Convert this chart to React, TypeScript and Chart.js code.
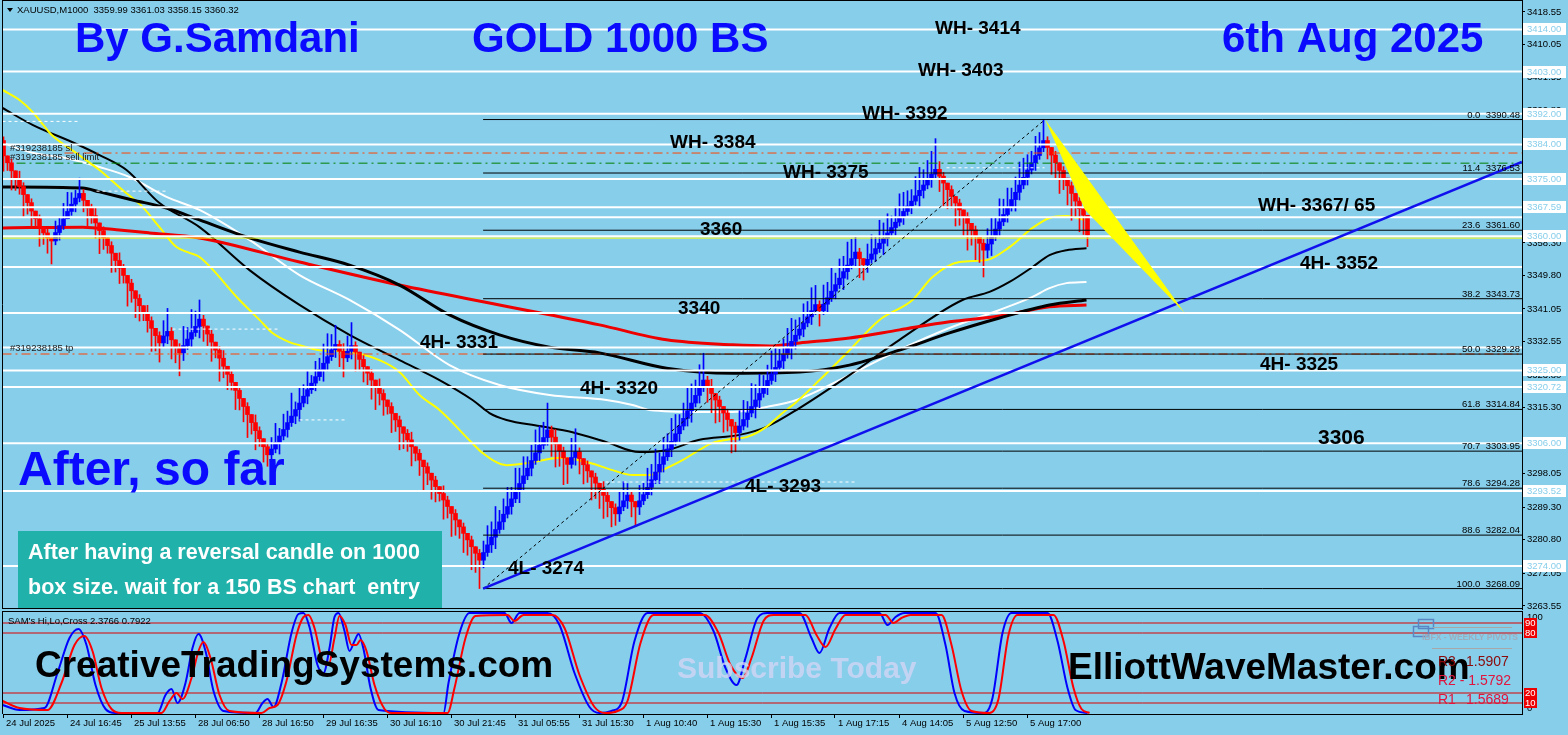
import React, { useEffect, useRef } from "react";
import { Chart, registerables } from "chart.js";
Chart.register(...registerables);

// ---------------- DATA ----------------
const firstOpen = 3385.0;
const closes = [
  3381.0,3379.2,3377.1,3375.0,3373.0,3370.9,3368.8,3366.6,3364.6,3362.4,3360.9,3359.6,3358.8,
  3361.0,3362.8,3364.6,3366.5,3368.4,3370.0,3371.2,
  3369.4,3367.4,3365.4,3363.5,3361.5,3359.6,3357.6,3355.6,3353.7,3351.7,3349.8,3347.8,3345.8,3343.8,3341.9,3340.0,3338.0,3336.0,3334.1,3332.2,
  3334.0,3335.2,
  3333.0,3331.0,3329.6,
  3331.5,3333.2,3334.9,3336.5,3338.4,
  3336.6,3334.5,3332.4,3330.3,3328.2,3326.1,3324.0,3321.9,3319.8,3317.7,3315.6,3313.5,3311.4,3309.3,3307.2,3305.1,3303.0,
  3304.5,3306.2,3307.9,3309.6,3311.4,3313.1,3314.8,3316.5,3318.3,3320.0,3321.7,3323.4,3325.2,3326.9,3328.6,3330.4,
  3331.8,
  3330.0,3328.3,
  3330.0,3331.5,
  3329.8,3327.9,
  3326.0,3324.3,3322.5,3320.8,3319.0,3317.3,3315.6,3313.8,3312.1,3310.3,3308.6,3306.9,3305.1,3303.4,3301.6,3299.9,3298.2,3296.4,3294.7,3292.9,3291.2,3289.5,3287.7,3286.0,3284.2,3282.5,3280.8,3279.0,3277.3,3275.5,
  3277.5,3279.5,3281.5,3283.5,3285.5,3287.5,3289.5,3291.5,3293.5,3295.5,3297.5,3299.5,3301.5,3303.5,3305.5,3307.5,3309.5,
  3307.6,3305.8,3304.0,3302.2,3300.5,
  3302.3,3303.8,
  3302.0,3300.4,3298.8,3297.2,3295.6,3294.0,3292.4,3290.8,3289.2,3287.6,
  3289.4,3291.0,3292.5,
  3290.8,3289.4,
  3291.0,3292.6,
  3294.5,3296.5,3298.5,3300.5,3302.5,3304.5,3306.5,3308.5,3310.5,3312.5,3314.5,3316.5,3318.5,3320.5,3322.5,
  3320.7,3319.0,3317.3,3315.6,3313.9,3312.2,3310.5,3308.8,
  3310.5,3312.2,3313.9,3315.6,3317.3,3319.0,3320.7,3322.4,3324.1,3325.8,3327.5,3329.2,3331.0,3332.6,3334.2,3335.8,3337.4,3339.0,3340.6,3342.2,
  3340.6,
  3342.3,3344.0,3345.7,3347.4,3349.1,3350.8,3352.5,3354.2,3355.9,
  3354.2,3352.6,
  3354.0,3355.4,3356.8,3358.2,3359.5,3360.9,3362.3,3363.7,3365.1,3366.5,3367.9,3369.2,3370.6,3372.0,3373.4,3374.8,3376.2,3377.5,
  3375.7,3373.9,3372.2,3370.4,3368.7,3366.9,3365.2,3363.4,3361.7,3359.9,3358.2,3356.4,
  3358.0,3359.9,3361.9,3363.8,3365.7,3367.6,3369.6,3371.5,3373.4,3375.4,3377.3,3379.2,3381.1,3383.1,3385.0,
  3383.2,3381.2,3379.2,3377.2,3375.2,3373.2,3371.2,3369.2,3367.2,3365.5,3360.32
];
const wickUp = [
  1,0,1,0,2,1,0,1,0,1,0,1,0,
  3,2,4,5,3,2,4,
  1,0,1,2,0,1,0,1,0,2,1,0,1,0,1,0,2,1,0,1,
  4,6,
  1,0,1,
  5,3,6,4,5,
  1,0,1,0,1,2,0,1,0,1,0,1,0,2,1,0,1,
  3,5,2,4,3,6,2,4,3,5,2,4,3,5,6,4,
  5,
  1,2,
  4,6,
  1,0,
  1,0,1,0,2,1,0,1,0,1,0,1,2,0,1,0,1,0,1,0,2,1,0,1,0,1,0,1,0,1,
  3,5,4,6,3,4,5,3,6,4,5,3,4,6,5,4,7,
  1,2,0,1,0,
  5,6,
  1,0,1,0,1,0,2,1,0,1,
  4,5,3,
  1,0,
  4,3,
  5,4,6,3,5,4,6,5,3,4,6,5,4,6,7,
  1,2,0,1,0,1,0,1,
  4,5,3,6,4,5,3,4,6,5,3,4,5,6,4,3,5,4,6,5,
  1,
  5,4,6,3,5,4,6,5,4,
  1,0,
  4,5,3,6,4,5,3,4,6,5,4,3,5,6,4,5,6,8,
  2,1,0,1,0,1,0,1,0,1,0,1,
  4,5,3,6,4,5,3,4,6,5,4,3,5,4,5.5,
  1,0,1,0,1,0,1,0,1,0,0
];
const wickDn = [
  4,2,5,3,2,6,3,4,2,5,3,4,6,
  1,2,1,0,1,2,1,
  3,5,2,4,6,3,2,5,3,4,2,6,3,5,4,2,3,6,4,5,
  1,2,
  5,4,6,
  2,1,2,1,3,
  4,3,5,2,6,3,4,2,5,3,4,6,3,5,2,4,3,
  2,1,3,1,2,1,2,3,1,2,1,2,1,3,2,1,
  2,
  4,5,
  1,2,
  5,3,
  4,3,5,6,3,4,2,5,3,6,4,3,5,2,4,6,3,5,4,2,5,3,6,4,3,5,4,6,5,7.4,
  2,1,2,3,1,2,1,2,1,3,2,1,2,1,2,1,2,
  5,6,4,7,5,
  1,2,
  4,5,3,6,4,5,6,4,5,3,
  2,1,2,
  4,5,
  2,1,
  1,2,1,3,2,1,2,1,2,1,2,3,1,2,1,
  4,5,6,4,5,3,7,5,
  2,1,2,1,3,2,1,2,1,2,1,2,1,3,2,1,2,1,2,1,
  4,
  1,2,1,2,1,3,2,1,2,
  5,4,
  2,1,2,1,3,2,1,2,1,2,1,2,1,3,2,1,2,1,
  4,6,5,3,6,4,5,7,4,6,5,7,
  2,3,1,2,1,2,1,3,2,1,2,1,2,1,1,
  3,5,4,6,3,5,7,4,6,5,3
];

// moving averages [bar, price]
const maYellow = [[-0.25,3398.2],[4,3395.6],[7.25,3392.5],[10,3389.0],[12,3386.5],[18.25,3381.7],[24,3377.3],[29.75,3372.1],[34.75,3367.7],[39,3362.4],[43.25,3357.2],[46.5,3355.7],[49,3354.6],[59,3343.4],[64,3338.2],[67.25,3334.8],[71.5,3332.4],[74,3331.6],[79,3330.3],[86.5,3329.8],[94,3327.7],[99,3324.6],[104,3318.6],[109,3314.7],[117.25,3306.0],[119.75,3303.5],[125.75,3300.3],[131.5,3300.9],[134.75,3301.6],[139,3302.2],[146.5,3300.9],[152.25,3299.0],[157.25,3297.7],[161.5,3297.7],[165.75,3299.5],[169.75,3301.6],[174,3304.3],[177.25,3306.1],[182.25,3307.1],[185.75,3307.6],[190.75,3310.3],[194.75,3313.9],[198.25,3316.8],[204,3322.5],[211.5,3330.3],[219,3338.2],[227.25,3343.4],[232.25,3349.4],[239,3353.3],[245.75,3353.8],[251.5,3357.2],[257.25,3362.2],[261.5,3364.8],[265.75,3365.3],[270.25,3364.3]];
const maBlackFast = [[-0.25,3393.5],[7.25,3389.1],[18.25,3384.1],[24,3381.2],[30.75,3377.3],[39,3368.7],[49,3362.4],[61.5,3351.2],[74,3342.1],[86.5,3334.3],[99,3327.7],[109,3322.5],[117.25,3317.3],[121.5,3313.9],[125.75,3312.1],[134,3310.5],[142.25,3308.9],[150.75,3306.3],[159,3303.7],[165.75,3304.2],[174,3306.9],[184,3308.2],[190.75,3310.3],[199,3315.2],[211.5,3323.8],[224,3333.0],[239.75,3343.4],[246.5,3345.5],[251.5,3348.1],[257.25,3352.0],[261.5,3355.1],[265.75,3356.4],[270.75,3356.9]];
const maBlackSlow = [[-0.25,3372.9],[19.75,3372.6],[24,3371.6],[32.25,3369.5],[40.75,3367.4],[49,3364.3],[61.5,3359.6],[74,3355.9],[86.5,3352.5],[99,3347.3],[111.5,3339.5],[124,3334.3],[136.5,3331.1],[149,3329.6],[165.75,3325.6],[182.25,3324.3],[199,3324.6],[211.5,3326.4],[224,3330.3],[236.5,3334.8],[249,3338.7],[261.5,3342.1],[270.75,3343.4]];
const maWhite = [[-0.25,3384.4],[7.25,3381.8],[15.75,3380.4],[24,3378.1],[31.5,3375.5],[40.75,3370.3],[49,3366.9],[61.5,3359.1],[74,3349.9],[86.5,3343.4],[99,3335.6],[111.5,3326.4],[124,3321.2],[136.5,3318.6],[150.75,3317.3],[157.25,3316.0],[161.5,3314.7],[174,3314.2],[182.25,3314.2],[190.75,3315.5],[198.25,3317.3],[211.5,3323.8],[224,3330.4],[236.5,3336.1],[249,3340.8],[257.25,3344.2],[261.5,3346.5],[265.75,3347.8],[270.75,3348.1]];
const maRed = [[-0.25,3362.2],[19.75,3362.4],[28.25,3361.7],[36.5,3360.9],[49,3359.6],[74,3353.3],[99,3347.3],[124,3342.1],[149,3336.9],[165.75,3333.0],[182.25,3331.7],[191.5,3331.4],[199,3332.2],[211.5,3333.5],[224,3335.6],[236.5,3337.7],[249,3339.2],[261.5,3341.6],[270.75,3342.1]];

// horizontal levels
const whiteLevels = [3414, 3403, 3392, 3384, 3375, 3367.59, 3365, 3360, 3352, 3340, 3331, 3325, 3320.72, 3306, 3293.52, 3274];
const taggedLevels = [3414, 3403, 3392, 3384, 3375, 3367.59, 3360, 3325, 3320.72, 3306, 3293.52, 3274];
const fibPct = [0.0, 11.4, 23.6, 38.2, 50.0, 61.8, 70.7, 78.6, 88.6, 100.0];
const fibPrice = [3390.48, 3376.53, 3361.60, 3343.73, 3329.28, 3314.84, 3303.95, 3294.28, 3282.04, 3268.09];
const fibStartBar = 119.9;
const fibHighBar = 260.4;
const trendEnd = [379.6, 3379.4];
const wedge = [[260.4, 3390.48], [295.3, 3340.0], [270.4, 3366.9]];
const orderPrices = [3381.75, 3379.1, 3329.3];
const orderStartBars = [15.25, 3.25, -0.25];
const pendingDashes = [[-0.25, 18.5, 3390.0], [23.25, 40.75, 3371.8], [42.25, 69, 3335.8], [74, 85.25, 3312.1], [149, 212.75, 3295.9], [235.75, 260.25, 3377.9]];

const priceTicks = [3418.55,3410.05,3401.55,3392.80,3384.30,3375.55,3367.05,3358.30,3349.80,3341.05,3332.55,3323.80,3315.30,3306.55,3298.05,3289.30,3280.80,3272.05,3263.55];
const timeLabels = ["24 Jul 2025","24 Jul 16:45","25 Jul 13:55","28 Jul 06:50","28 Jul 16:50","29 Jul 16:35","30 Jul 16:10","30 Jul 21:45","31 Jul 05:55","31 Jul 15:30","1 Aug 10:40","1 Aug 15:30","1 Aug 15:35","1 Aug 17:15","4 Aug 14:05","5 Aug 12:50","5 Aug 17:00"];

// oscillator [bar, value]
const oscBlue = [[-0.25,8],[4,3],[10.25,5],[13.5,40],[16.5,75],[18.75,84],[20.75,68],[23,28],[25.5,4],[28,0],[38.5,0],[40.5,18],[42,24],[43.5,10],[45.5,30],[47.25,65],[48.75,79],[50.5,62],[52.5,22],[55,2],[63,0],[64.75,10],[66,14],[67.5,6],[69.5,30],[72,80],[73.75,99],[75,100],[76.5,86],[78.5,48],[80,40],[81.5,65],[82.75,96],[83.75,100],[85.25,82],[86.5,62],[87.75,72],[88.75,79],[90,64],[91.75,25],[93.75,3],[110,0],[111.25,30],[114,80],[116.5,100],[125.25,100],[127,90],[129,100],[136,100],[139,88],[142.75,40],[146.5,6],[149,0],[152,2],[154.5,10],[157.75,72],[161,100],[174,100],[177.5,82],[180.5,45],[183.25,28],[185.5,55],[188.5,95],[191,100],[199,100],[202,75],[204,60],[206.5,85],[209,100],[219,100],[221,88],[223,96],[225.25,100],[233,100],[235.5,68],[237.75,20],[240.25,2],[245.25,0],[247.25,15],[249.75,80],[252,100],[261,100],[263.5,72],[266,25],[268,3],[271,0]];
const oscRed = [[-0.25,12],[4,5],[11,3],[14.5,30],[17.75,68],[20.25,77],[22.25,62],[24.5,25],[27,4],[29.5,0],[39.5,0],[41.5,12],[43.25,20],[44.75,14],[47,35],[48.75,62],[50,71],[51.75,55],[54,18],[56.5,2],[64.5,0],[66.5,5],[68.5,8],[70.75,32],[73.25,78],[75,96],[76.25,98],[77.75,85],[79.75,52],[81.25,48],[82.75,75],[84,97],[85.5,88],[87,68],[88.25,68],[89.25,73],[90.75,62],[92.75,28],[95.25,4],[97,0],[111,0],[112.75,25],[115.5,75],[118,97],[126,98],[127.75,92],[130,98],[137.25,98],[140.25,85],[144,38],[147.75,6],[150.5,0],[153.5,2],[156,12],[159.25,70],[162.5,98],[175.25,98],[178.75,80],[181.75,48],[184.75,35],[187,55],[190,92],[192.5,98],[200.5,98],[203.25,78],[205.5,66],[208,84],[210.5,98],[220.5,98],[222.5,90],[224.5,95],[226.75,98],[234.5,98],[237,68],[239.5,22],[242,2],[246.5,0],[248.75,14],[251.25,78],[253.5,98],[262.5,98],[265,72],[267.5,25],[269.5,4],[271.5,0]];
const oscLevels = [90, 80, 20, 10];

// ---------------- LAYOUT / STYLE ----------------
const BG = "#87ceeb";
const FONT = '"Liberation Sans", Arial, sans-serif';
const BLUE = "#0000ff";
const RED = "#ff0000";
const X_MIN = -0.125;
const X_MAX = X_MIN + 1519 / 4;
const Y_MIN = 3262.76;
const Y_MAX = 3421.68;

const blackLabels = [
  ["WH- 3414", 935, 29, 19], ["WH- 3403", 918, 71, 19], ["WH- 3392", 862, 114, 19], ["WH- 3384", 670, 143, 19],
  ["WH- 3375", 783, 173, 19], ["3360", 700, 230, 19], ["WH- 3367/ 65", 1258, 206, 19], ["4H- 3352", 1300, 264, 19],
  ["3340", 678, 309, 19], ["4H- 3331", 420, 343, 19], ["4H- 3320", 580, 389, 19], ["4H- 3325", 1260, 365, 19],
  ["3306", 1318, 438, 21], ["4L- 3293", 745, 487, 19], ["4L- 3274", 508, 569, 19]
];

const nBars = Math.min(closes.length, wickUp.length, wickDn.length);
const opens = closes.map((c, i) => (i === 0 ? firstOpen : closes[i - 1]));
const colorOf = (i) => (closes[i] >= opens[i] ? BLUE : RED);
const barIdx = Array.from({ length: nBars }, (_, i) => i);

function lineDs(points, color, width, order, dash = [], smooth = false) {
  return {
    type: "line",
    data: points.map(([x, y]) => ({ x, y })),
    borderColor: color,
    borderWidth: width,
    borderDash: dash,
    pointRadius: 0,
    fill: false,
    order,
    tension: 0,
    cubicInterpolationMode: smooth ? "monotone" : "default",
  };
}

function mainConfig() {
  const datasets = [];
  datasets.push(lineDs(maYellow, "#ffff00", 2, 20, [], true));
  datasets.push(lineDs(maBlackFast, "#000000", 2, 20, [], true));
  datasets.push(lineDs(maWhite, "#ffffff", 2, 20, [], true));
  datasets.push(lineDs(maBlackSlow, "#000000", 3, 19, [], true));
  datasets.push(lineDs(maRed, "#ee0000", 3, 19, [], true));
  datasets.push({
    type: "bar",
    data: barIdx.map((i) => ({ x: i, y: [Math.min(closes[i], opens[i]) - wickDn[i], Math.max(closes[i], opens[i]) + wickUp[i]] })),
    backgroundColor: barIdx.map(colorOf),
    barThickness: 1,
    grouped: false,
    borderWidth: 0,
    order: 12,
  });
  datasets.push({
    type: "bar",
    data: barIdx.map((i) => ({ x: i, y: [opens[i], closes[i]] })),
    backgroundColor: barIdx.map(colorOf),
    barThickness: 4,
    grouped: false,
    borderWidth: 0,
    order: 11,
  });
  pendingDashes.forEach(([a, b, p]) => datasets.push(lineDs([[a, p], [b, p]], "#ffffff", 1, 9, [3, 3])));
  datasets.push(lineDs([[X_MIN, 3359.55], [X_MAX, 3359.55]], "#ffff00", 1, 8));
  whiteLevels.forEach((p) => datasets.push(lineDs([[X_MIN, p], [X_MAX, p]], "#ffffff", 2, 7)));
  const ordColors = ["#ff4500", "#008000", "#ff4500"];
  orderPrices.forEach((p, k) => datasets.push(lineDs([[orderStartBars[k], p], [X_MAX, p]], ordColors[k], 1, 6, [9, 4, 2, 4])));
  fibPrice.forEach((p) => datasets.push(lineDs([[fibStartBar, p], [X_MAX, p]], "#000000", 1, 5)));
  datasets.push(lineDs([[fibStartBar, fibPrice[9]], [fibHighBar, fibPrice[0]]], "#000000", 1, 4, [3, 3]));
  datasets.push(lineDs([[fibStartBar, fibPrice[9]], trendEnd], "#1010ee", 2.5, 3));

  const plugin = {
    id: "mainDecor",
    beforeDraw(chart) {
      const { ctx, width, height } = chart;
      ctx.save();
      ctx.fillStyle = BG;
      ctx.fillRect(0, 0, width, height);
      ctx.restore();
    },
    afterDatasetsDraw(chart) {
      const ctx = chart.ctx;
      const xs = chart.scales.x, ys = chart.scales.y, ca = chart.chartArea;
      ctx.save();
      ctx.beginPath();
      ctx.rect(ca.left, ca.top, ca.right - ca.left, ca.bottom - ca.top);
      ctx.clip();
      // yellow wedge
      ctx.beginPath();
      wedge.forEach(([b, p], k) => {
        const X = xs.getPixelForValue(b), Y = ys.getPixelForValue(p);
        if (k) ctx.lineTo(X, Y); else ctx.moveTo(X, Y);
      });
      ctx.closePath();
      ctx.fillStyle = "#ffff00";
      ctx.fill();
      // fib labels
      ctx.font = `9.5px ${FONT}`;
      ctx.fillStyle = "#000";
      ctx.textAlign = "right";
      ctx.textBaseline = "alphabetic";
      fibPct.forEach((pc, k) => {
        const Y = ys.getPixelForValue(fibPrice[k]);
        ctx.fillText(pc.toFixed(1) + "  " + fibPrice[k].toFixed(2), ca.right - 2, Y - 2);
      });
      // header and order labels
      ctx.textAlign = "left";
      ctx.textBaseline = "middle";
      ctx.fillStyle = "#000";
      ctx.fillText("XAUUSD,M1000  3359.99 3361.03 3358.15 3360.32", 17, 10);
      ctx.beginPath();
      ctx.moveTo(7, 8); ctx.lineTo(13, 8); ctx.lineTo(10, 12); ctx.closePath(); ctx.fill();
      ctx.fillStyle = "#1a1a1a";
      ctx.fillText("#319238185 sl", 10, 148);
      ctx.fillText("#319238185 sell limit", 10, 157);
      ctx.fillText("#319238185 tp", 10, 348);
      // titles
      ctx.fillStyle = "#0a0aff";
      ctx.textBaseline = "alphabetic";
      ctx.font = `bold 42px ${FONT}`;
      ctx.fillText("By G.Samdani", 75, 52);
      ctx.fillText("GOLD 1000 BS", 472, 52);
      ctx.fillText("6th Aug 2025", 1222, 52);
      ctx.font = `bold 48px ${FONT}`;
      ctx.fillText("After, so far", 18, 485);
      // black labels
      ctx.fillStyle = "#000";
      ctx.textBaseline = "middle";
      blackLabels.forEach(([t, x, y, s]) => {
        ctx.font = `bold ${s}px ${FONT}`;
        ctx.fillText(t, x, y);
      });
      // teal note box
      ctx.fillStyle = "#20b2aa";
      ctx.fillRect(18, 531, 424, 78);
      ctx.fillStyle = "#ffffff";
      ctx.font = `bold 21.5px ${FONT}`;
      ctx.fillText("After having a reversal candle on 1000", 28, 553);
      ctx.fillText("box size. wait for a 150 BS chart  entry", 28, 588);
      ctx.restore();
    },
    afterDraw(chart) {
      const ctx = chart.ctx, ys = chart.scales.y, ca = chart.chartArea;
      ctx.save();
      ctx.font = `9.5px ${FONT}`;
      ctx.textAlign = "left";
      ctx.textBaseline = "middle";
      taggedLevels.forEach((p) => {
        const Y = Math.round(ys.getPixelForValue(p));
        ctx.fillStyle = "#ffffff";
        ctx.fillRect(ca.right + 1, Y - 6, 43, 12);
        ctx.fillStyle = BG;
        ctx.fillText(p.toFixed(2), ca.right + 5, Y + 0.5);
      });
      ctx.strokeStyle = "#000";
      ctx.lineWidth = 1;
      ctx.beginPath();
      ctx.moveTo(ca.left - 0.5, ca.top);
      ctx.lineTo(ca.left - 0.5, ca.bottom);
      ctx.moveTo(ca.left - 1, ca.bottom - 0.5);
      ctx.lineTo(ca.right, ca.bottom - 0.5);
      ctx.moveTo(ca.left - 1, ca.top + 0.5);
      ctx.lineTo(ca.right, ca.top + 0.5);
      ctx.stroke();
      ctx.restore();
    },
  };

  return {
    type: "bar",
    data: { datasets },
    options: {
      animation: false,
      responsive: false,
      devicePixelRatio: 1,
      events: [],
      layout: { padding: { left: 3, right: 0, top: 0, bottom: 2 } },
      plugins: { legend: { display: false }, tooltip: { enabled: false } },
      scales: {
        x: { type: "linear", display: false, min: X_MIN, max: X_MAX, offset: false, grid: { offset: false } },
        y: {
          type: "linear",
          position: "right",
          min: Y_MIN,
          max: Y_MAX,
          afterBuildTicks: (s) => { s.ticks = priceTicks.map((v) => ({ value: v })); },
          afterFit: (s) => { s.width = 46; s.paddingTop = 0; s.paddingBottom = 0; },
          ticks: { autoSkip: false, padding: 2, color: "#000", font: { size: 9.5 }, callback: (v) => Number(v).toFixed(2) },
          grid: { drawOnChartArea: false, drawTicks: true, tickLength: 3, color: "#000" },
          border: { display: true, color: "#000", width: 1 },
        },
      },
    },
    plugins: [plugin],
  };
}

function oscConfig() {
  const datasets = [];
  oscLevels.forEach((v) => datasets.push(lineDs([[X_MIN, v], [X_MAX, v]], "#dd0000", 1, 9)));
  datasets.push(lineDs(oscBlue, BLUE, 2, 6, [], true));
  datasets.push(lineDs(oscRed, RED, 2, 5, [], true));

  const plugin = {
    id: "oscDecor",
    beforeDraw(chart) {
      const { ctx, width, height } = chart;
      ctx.save();
      ctx.fillStyle = BG;
      ctx.fillRect(0, 0, width, height);
      ctx.restore();
    },
    afterDatasetsDraw(chart) {
      const ctx = chart.ctx;
      ctx.save();
      ctx.textAlign = "left";
      ctx.textBaseline = "middle";
      ctx.fillStyle = "#000";
      ctx.font = `9.5px ${FONT}`;
      ctx.fillText("SAM's Hi,Lo,Cross 2.3766 0.7922", 8, 10);
      ctx.textBaseline = "alphabetic";
      ctx.font = `bold 30px ${FONT}`;
      ctx.fillStyle = "rgba(210,214,245,0.8)";
      ctx.fillText("Subscribe Today", 677, 67);
      ctx.fillStyle = "#000";
      ctx.font = `bold 37px ${FONT}`;
      ctx.fillText("CreativeTradingSystems.com", 35, 66);
      ctx.fillText("ElliottWaveMaster.com", 1068, 68);
      // weekly pivots panel
      ctx.strokeStyle = "#5b86c4";
      ctx.lineWidth = 1.5;
      ctx.strokeRect(1418.5, 8.5, 15, 9);
      ctx.strokeRect(1413.5, 15.5, 15, 10);
      ctx.strokeStyle = "#a7a7a7";
      ctx.lineWidth = 1;
      ctx.beginPath();
      ctx.moveTo(1433, 16.5); ctx.lineTo(1512, 16.5);
      ctx.moveTo(1432, 37.5); ctx.lineTo(1512, 37.5);
      ctx.stroke();
      ctx.fillStyle = "rgba(160,168,184,0.9)";
      ctx.font = `bold 8.5px ${FONT}`;
      ctx.textBaseline = "middle";
      ctx.fillText("IBFX - WEEKLY PIVOTS", 1422, 27);
      ctx.font = `14px ${FONT}`;
      ctx.fillStyle = "#8b0a0a";
      ctx.fillText("R3", 1438, 51);
      ctx.fillText("1.5907", 1466, 51);
      ctx.fillStyle = "#e0143c";
      ctx.fillText("R2 - 1.5792", 1438, 70);
      ctx.fillText("R1", 1438, 89);
      ctx.fillText("1.5689", 1466, 89);
      ctx.restore();
    },
    afterDraw(chart) {
      const ctx = chart.ctx, ys = chart.scales.y, ca = chart.chartArea;
      ctx.save();
      ctx.strokeStyle = "#000";
      ctx.lineWidth = 1;
      ctx.beginPath();
      ctx.moveTo(ca.left - 0.5, ca.top);
      ctx.lineTo(ca.left - 0.5, ca.bottom);
      ctx.moveTo(ca.left - 1, ca.top + 0.5);
      ctx.lineTo(ca.right, ca.top + 0.5);
      ctx.stroke();
      ctx.font = `9.5px ${FONT}`;
      ctx.textAlign = "left";
      ctx.textBaseline = "middle";
      ctx.fillStyle = "#000";
      ctx.fillText("100", ca.right + 5, 6);
      ctx.fillText("0", ca.right + 5, 97);
      oscLevels.forEach((v) => {
        const Y = Math.round(ys.getPixelForValue(v));
        ctx.fillStyle = "#ee0000";
        ctx.fillRect(ca.right + 2, Y - 5, 13, 10);
        ctx.fillStyle = "#ffffff";
        ctx.fillText(String(v), ca.right + 3, Y + 0.5);
      });
      ctx.restore();
    },
  };

  return {
    type: "line",
    data: { datasets },
    options: {
      animation: false,
      responsive: false,
      devicePixelRatio: 1,
      events: [],
      layout: { padding: { left: 3, right: 0, top: 0, bottom: 0 } },
      plugins: { legend: { display: false }, tooltip: { enabled: false } },
      scales: {
        x: {
          type: "linear",
          position: "bottom",
          min: X_MIN,
          max: X_MAX,
          afterBuildTicks: (s) => { s.ticks = timeLabels.map((_, k) => ({ value: k * 16 + X_MIN })); },
          afterFit: (s) => { s.height = 21; s.paddingLeft = 0; s.paddingRight = 0; },
          ticks: {
            autoSkip: false, maxRotation: 0, minRotation: 0, align: "start", labelOffset: 3, padding: 0,
            color: "#000", font: { size: 9.5 }, callback: (_v, idx) => timeLabels[idx],
          },
          grid: { drawOnChartArea: false, drawTicks: true, tickLength: 4, color: "#000", offset: false },
          border: { display: true, color: "#000" },
        },
        y: {
          type: "linear",
          position: "right",
          min: -1,
          max: 102,
          afterFit: (s) => { s.width = 46; s.paddingTop = 0; s.paddingBottom = 0; },
          ticks: { display: false },
          grid: { display: false },
          border: { display: true, color: "#000" },
        },
      },
    },
    plugins: [plugin],
  };
}

export default function App() {
  const mainRef = useRef(null);
  const oscRef = useRef(null);
  useEffect(() => {
    document.body.style.margin = "0";
    document.body.style.background = BG;
    Chart.defaults.font.family = FONT;
    const c1 = new Chart(mainRef.current, mainConfig());
    const c2 = new Chart(oscRef.current, oscConfig());
    return () => { c1.destroy(); c2.destroy(); };
  }, []);
  return (
    <div style={{ width: 1568, height: 735, background: BG, position: "relative", overflow: "hidden" }}>
      <canvas ref={mainRef} width={1568} height={611} style={{ display: "block", width: 1568, height: 611 }} />
      <canvas ref={oscRef} width={1568} height={124} style={{ display: "block", width: 1568, height: 124 }} />
    </div>
  );
}
